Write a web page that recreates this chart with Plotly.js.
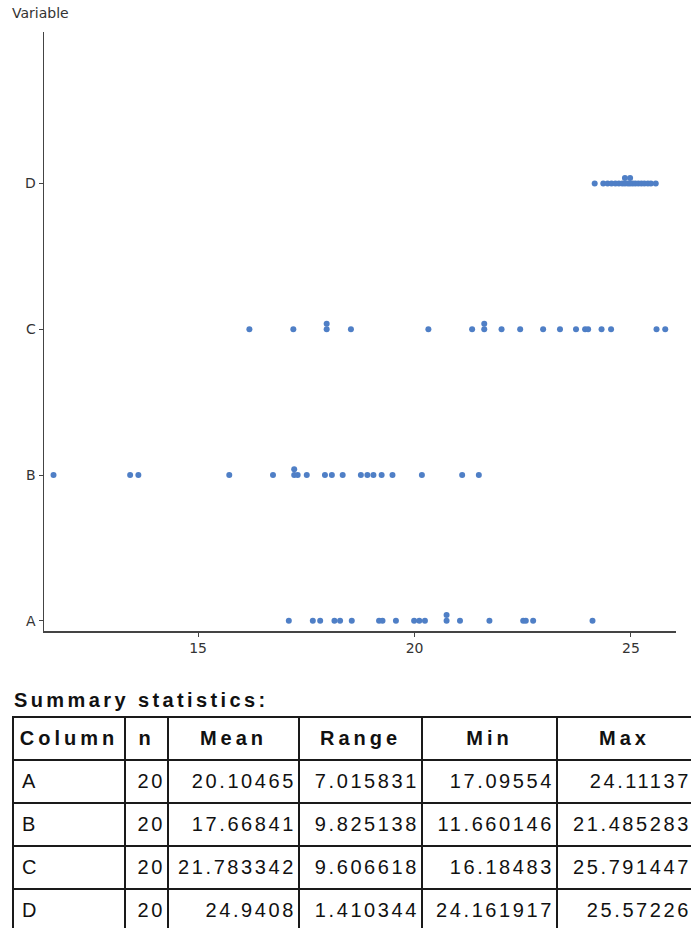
<!DOCTYPE html>
<html>
<head>
<meta charset="utf-8">
<script src="https://cdn.plot.ly/plotly-3.0.1.min.js"></script>
<style>
  html, body { margin:0; padding:0; width:691px; height:928px; overflow:hidden; background:#fff; }
  #chart { position:absolute; left:0; top:0; width:691px; height:660px; }
  #stitle { position:absolute; left:14px; top:690px; font-family:"Liberation Sans", Arial, sans-serif;
            font-weight:bold; font-size:20px; line-height:20px; letter-spacing:3.4px; color:#111; white-space:nowrap; }
  #stats { position:absolute; left:12px; top:716px; border-collapse:collapse; table-layout:fixed;
           font-family:"Liberation Sans", Arial, sans-serif; font-size:20px; color:#111; }
  #stats td, #stats th { border:2px solid #1a1a1a; padding:0; white-space:nowrap; overflow:visible; }
  #stats tr { height:43px; }
  #stats th { font-weight:bold; letter-spacing:4px; text-align:center; }
  #stats td { letter-spacing:2.6px; text-align:right; padding-right:2px; }
  #stats td.lab { text-align:left; padding-left:8px; letter-spacing:0; }
  #stats td.last, #stats th.last { border-right:none; padding-right:0; }
</style>
</head>
<body>
<div id="chart"></div>
<div id="stitle">Summary statistics:</div>
<table id="stats"></table>
<script>
// ---- data ----
var categories = ['A', 'B', 'C', 'D'];
var valuesA = [17.09554, 17.65, 17.82, 18.15, 18.28, 18.55, 19.18, 19.26, 19.57, 19.99, 20.11, 20.24, 20.74, 20.74, 21.05, 21.73, 22.51, 22.57, 22.74, 24.11137];
var valuesB = [11.660146, 13.43, 13.62, 15.72, 16.73, 17.22, 17.22, 17.30, 17.51, 17.93, 18.09, 18.34, 18.76, 18.91, 19.05, 19.24, 19.49, 20.17, 21.10, 21.485283];
var valuesC = [16.18483, 17.20, 17.97, 17.97, 18.53, 20.32, 21.33, 21.61, 21.61, 22.01, 22.44, 22.97, 23.36, 23.73, 23.94, 24.01, 24.32, 24.54, 25.59, 25.791447];
var valuesD = [24.161917, 24.36, 24.46, 24.55, 24.64, 24.72, 24.80, 24.86, 24.86, 24.93, 24.98, 24.98, 25.04, 25.10, 25.17, 25.24, 25.31, 25.39, 25.46, 25.57226];
var xTicks = [15, 20, 25];

// summary table text
var statHeaders = ['Column', 'n', 'Mean', 'Range', 'Min', 'Max'];
var statN = ['20', '20', '20', '20'];
var statMean = ['20.10465', '17.66841', '21.783342', '24.9408'];
var statRange = ['7.015831', '9.825138', '9.606618', '1.410344'];
var statMin = ['17.09554', '11.660146', '16.18483', '24.161917'];
var statMax = ['24.11137', '21.485283', '25.791447', '25.57226'];

// ---- chart ----
var series = [valuesA, valuesB, valuesC, valuesD];
var xs = [], ys = [];
var stackStep = 0.039;
series.forEach(function (vals, ci) {
  var seen = {};
  vals.forEach(function (v) {
    var key = v.toFixed(2);
    var lvl = seen[key] || 0;
    seen[key] = lvl + 1;
    xs.push(v);
    ys.push(ci + lvl * stackStep);
  });
});

var trace = {
  type: 'scatter', mode: 'markers', x: xs, y: ys,
  marker: { color: '#4f7fc6', size: 6, line: { width: 0 } },
  hoverinfo: 'skip', showlegend: false
};

var axisFont = { family: 'DejaVu Sans, sans-serif', size: 14, color: '#333' };
var layout = {
  width: 691, height: 660,
  margin: { l: 44, r: 15, t: 32, b: 29 },
  paper_bgcolor: '#fff', plot_bgcolor: '#fff',
  showlegend: false,
  xaxis: {
    range: [11.44, 26.04], tickvals: xTicks, ticktext: xTicks.map(String),
    showgrid: false, zeroline: false, showline: true, linecolor: '#444', linewidth: 1.5,
    ticks: 'outside', ticklen: 4, tickwidth: 1, tickcolor: '#444', tickfont: axisFont
  },
  yaxis: {
    range: [-0.07, 4.04], tickvals: [0, 1, 2, 3], ticktext: categories,
    showgrid: false, zeroline: false, showline: true, linecolor: '#444', linewidth: 1.5,
    ticks: 'outside', ticklen: 4, tickwidth: 1, tickcolor: '#444', tickfont: axisFont
  },
  annotations: [{
    text: 'Variable', xref: 'paper', yref: 'paper', x: -0.054, y: 1.0, yshift: 29,
    xanchor: 'left', yanchor: 'top', showarrow: false,
    font: { family: 'DejaVu Sans, sans-serif', size: 14, color: '#333' }
  }]
};

Plotly.newPlot('chart', [trace], layout, { staticPlot: true, displayModeBar: false });

// ---- table ----
var colWidths = [112, 43, 131, 123, 135, 134];
var tbl = document.getElementById('stats');
var cg = document.createElement('colgroup');
colWidths.forEach(function (w) { var c = document.createElement('col'); c.style.width = w + 'px'; cg.appendChild(c); });
tbl.appendChild(cg);
var hr = document.createElement('tr');
statHeaders.forEach(function (h, j) {
  var th = document.createElement('th'); th.textContent = h;
  if (j === statHeaders.length - 1) th.className = 'last';
  hr.appendChild(th);
});
tbl.appendChild(hr);
categories.forEach(function (c, i) {
  var tr = document.createElement('tr');
  var cells = [c, statN[i], statMean[i], statRange[i], statMin[i], statMax[i]];
  cells.forEach(function (t, j) {
    var td = document.createElement('td');
    td.textContent = t;
    if (j === 0) td.className = 'lab';
    if (j === cells.length - 1) td.className = 'last';
    tr.appendChild(td);
  });
  tbl.appendChild(tr);
});
tbl.style.width = colWidths.reduce(function (a, b) { return a + b; }, 0) + 'px';
</script>
</body>
</html>
